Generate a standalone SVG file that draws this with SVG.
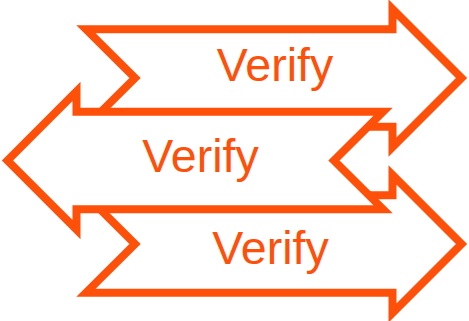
<svg xmlns="http://www.w3.org/2000/svg" width="469" height="321" viewBox="0 0 469 321">
  <style>
    .arrow { fill: #FFFFFF; stroke: #FF500A; stroke-width: 8; stroke-linejoin: miter; stroke-miterlimit: 10; }
    .label { font-family: "Liberation Sans", Arial, sans-serif; font-size: 46.5px; fill: #FF500A; text-anchor: middle; }
  </style>
  <rect width="469" height="321" fill="#FFFFFF"/>
  <g id="arrow-top">
    <path class="arrow" d="M86,29.25 H392.5 V9 L461.5,78 L392.5,147 V126.75 H86 L135,78 Z"/>
    <text class="label" x="275" y="81">Verify</text>
  </g>
  <g id="arrow-bottom">
    <path class="arrow" d="M86,195.25 H392.5 V175 L461.5,244 L392.5,313 V292.75 H86 L135,244 Z"/>
    <text class="label" x="270.5" y="264">Verify</text>
  </g>
  <g id="arrow-middle">
    <path class="arrow" d="M383,111.75 H76.5 V91.5 L7.5,160.5 L76.5,229.5 V209.25 H383 L334,160.5 Z"/>
    <text class="label" x="200.5" y="172">Verify</text>
  </g>
  <g id="connectors"></g>
</svg>
